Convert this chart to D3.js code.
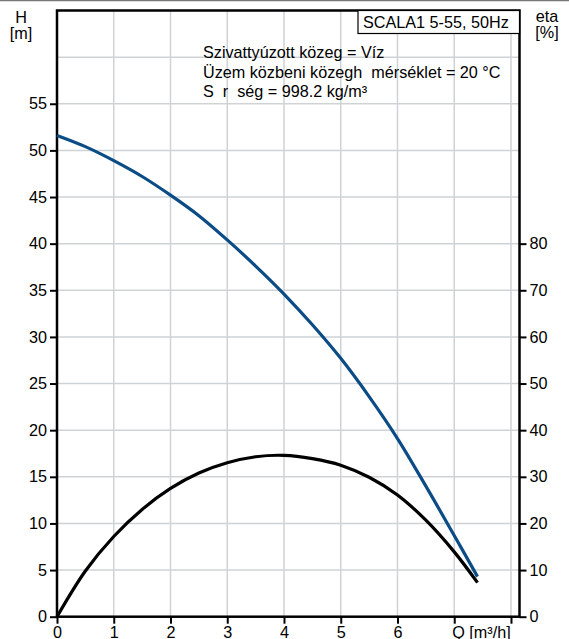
<html>
<head>
<meta charset="utf-8">
<title>SCALA1 5-55</title>
<style>
  body { margin: 0; background: #fff; }
  text { font-family: "Liberation Sans", Arial, sans-serif; white-space: pre; }
</style>
</head>
<body>
<script src="https://cdn.jsdelivr.net/npm/d3@7"></script>
<script>

var width  = 569;
var height = 639;

// pumpegörbe adatai (Q [m3/h], H [m], eta [%])
var flowH = [0, 0.5, 1, 1.5, 2, 2.5, 3, 3.5, 4, 4.5, 5, 5.5, 6, 6.5, 7, 7.41];
var head  = [51.6, 50.4, 48.9, 47.2, 45.2, 43.0, 40.4, 37.6, 34.6, 31.3, 27.7, 23.6, 19.1, 14.0, 8.7, 4.3];
var flowEta = [0, 0.5, 1, 1.5, 2, 2.5, 3, 3.5, 4, 4.5, 5, 5.5, 6, 6.5, 7, 7.41];
var eta     = [0, 9.8, 17.2, 23.0, 27.5, 30.8, 33.0, 34.3, 34.6, 33.9, 32.5, 29.9, 26.1, 20.7, 13.9, 7.3];

var xTicks  = [0, 1, 2, 3, 4, 5, 6, 7, 8];
var xLabels = ["0", "1", "2", "3", "4", "5", "6", "", ""];
var hTicks  = [0, 5, 10, 15, 20, 25, 30, 35, 40, 45, 50, 55];
var hGrid   = [0, 5, 10, 15, 20, 25, 30, 35, 40, 45, 50, 55, 60];
var etaTicks = [0, 10, 20, 30, 40, 50, 60, 70, 80];
var infoLines = ["Szivattyúzott közeg = Víz",
                 "Üzem közbeni közegh  mérséklet = 20 °C",
                 "S  r  ség = 998.2 kg/m³"];
var title = "SCALA1 5-55, 50Hz";

// a "top" név foglalt (window.top), ezért pl...
var plLeft = 57, plRight = 519.5, plTop = 10.5, plBottom = 616.7;
var fs = 16.2; // betűméret

var x = d3.scaleLinear().domain([0, 8.15]).range([plLeft, plRight]);
var y = d3.scaleLinear().domain([0, 65]).range([plBottom, plTop]);
var yEta = d3.scaleLinear().domain([0, 130]).range([plBottom, plTop]);

var svg = d3.select("body").append("svg")
	.attr("width", width)
	.attr("height", height);

// felső szürke vonal
svg.append("line")
	.attr("x1", 0).attr("x2", width)
	.attr("y1", 0.5).attr("y2", 0.5)
	.attr("stroke", "#777").attr("stroke-width", 1.5);

// rács
svg.append("g").selectAll("line").data(xTicks).enter().append("line")
	.attr("x1", function(d){ return x(d); })
	.attr("x2", function(d){ return x(d); })
	.attr("y1", plTop).attr("y2", plBottom)
	.attr("stroke", "#cfd3d6").attr("stroke-width", 1.5);

svg.append("g").selectAll("line").data(hGrid).enter().append("line")
	.attr("x1", plLeft).attr("x2", plRight)
	.attr("y1", function(d){ return y(d); })
	.attr("y2", function(d){ return y(d); })
	.attr("stroke", "#cfd3d6").attr("stroke-width", 1.5);

// tengelyek
var axisFont = function(g) {
	g.select(".domain").remove();
	g.selectAll(".tick line").attr("stroke", "#000").attr("stroke-width", 2);
	g.selectAll(".tick text").attr("fill", "#000")
		.style("font-family", "'Liberation Sans', Arial, sans-serif")
		.style("font-size", fs + "px");
};

svg.append("g")
	.attr("transform", "translate(0," + plBottom + ")")
	.call(d3.axisBottom(x).tickValues(xTicks)
		.tickFormat(function(d, i){ return xLabels[i]; })
		.tickSize(7).tickPadding(3))
	.call(axisFont);

svg.append("g")
	.attr("transform", "translate(" + plLeft + ",0)")
	.call(d3.axisLeft(y).tickValues(hTicks).tickSize(7).tickPadding(3))
	.call(axisFont);

svg.append("g")
	.attr("transform", "translate(" + plRight + ",0)")
	.call(d3.axisRight(yEta).tickValues(etaTicks).tickSize(7).tickPadding(3))
	.call(axisFont);

svg.append("text")
	.attr("x", x(7) - 2).attr("y", plBottom + 10)
	.attr("dy", "0.71em")
	.attr("font-size", fs).text("Q [m³/h]");

// keret
svg.append("rect")
	.attr("x", plLeft).attr("y", plTop)
	.attr("width", plRight - plLeft).attr("height", plBottom - plTop)
	.attr("fill", "none").attr("stroke", "#000").attr("stroke-width", 2.5);

// görbék
var hLine = d3.line()
	.x(function(d){ return x(d[0]); })
	.y(function(d){ return y(d[1]); })
	.curve(d3.curveCatmullRom.alpha(0.5));

var etaLine = d3.line()
	.x(function(d){ return x(d[0]); })
	.y(function(d){ return yEta(d[1]); })
	.curve(d3.curveCatmullRom.alpha(0.5));

svg.append("path")
	.datum(d3.zip(flowEta, eta))
	.attr("d", etaLine)
	.attr("fill", "none").attr("stroke", "#000").attr("stroke-width", 3.2);

svg.append("path")
	.datum(d3.zip(flowH, head))
	.attr("d", hLine)
	.attr("fill", "none").attr("stroke", "#0b4c87").attr("stroke-width", 3.2);

// tengelyfeliratok
svg.append("text").attr("x", 21).attr("y", 23)
	.attr("text-anchor", "middle").attr("font-size", fs).text("H");
svg.append("text").attr("x", 21).attr("y", 39)
	.attr("text-anchor", "middle").attr("font-size", fs).text("[m]");
svg.append("text").attr("x", 547).attr("y", 22)
	.attr("text-anchor", "middle").attr("font-size", fs).text("eta");
svg.append("text").attr("x", 547).attr("y", 38)
	.attr("text-anchor", "middle").attr("font-size", fs).text("[%]");

// címdoboz
svg.append("rect")
	.attr("x", 358).attr("y", plTop)
	.attr("width", plRight - 358).attr("height", 23)
	.attr("fill", "#fff").attr("stroke", "#000").attr("stroke-width", 1.2);
svg.append("text").attr("x", 363).attr("y", 28)
	.attr("font-size", fs).text(title);

// közeg adatai
svg.append("g").selectAll("text").data(infoLines).enter().append("text")
	.attr("x", 203)
	.attr("y", function(d, i){ return 58 + i * 19.5; })
	.attr("font-size", fs)
	.text(function(d){ return d; });

</script>
</body>
</html>
